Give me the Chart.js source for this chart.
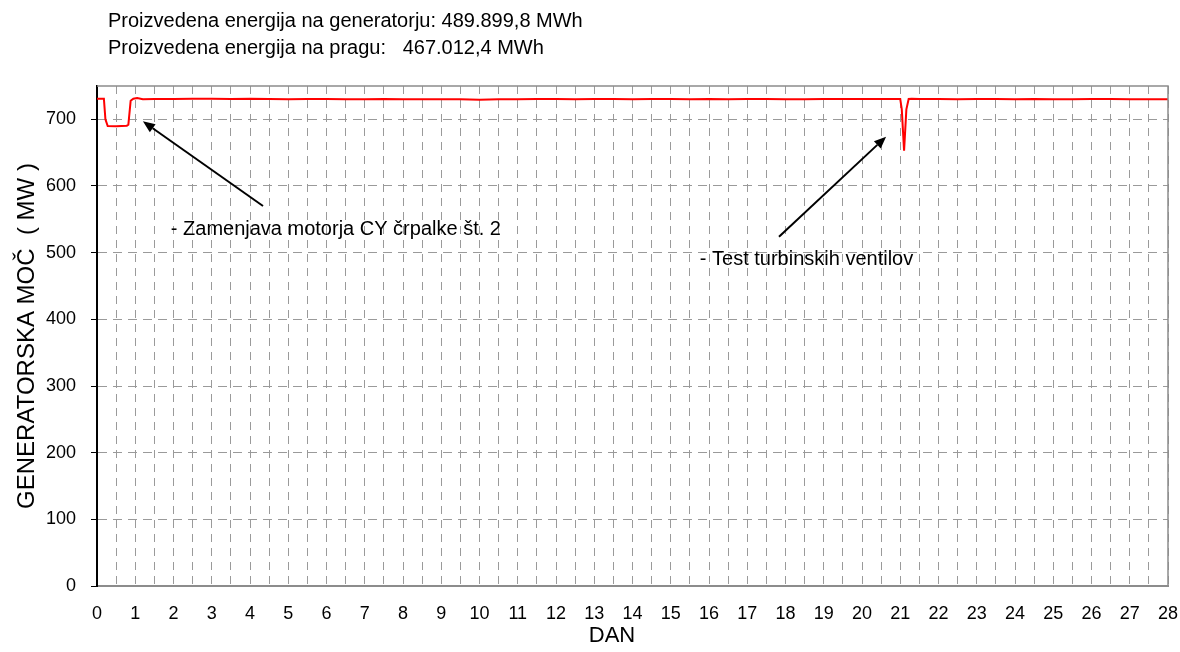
<!DOCTYPE html>
<html>
<head>
<meta charset="utf-8">
<script src="https://cdn.jsdelivr.net/npm/chart.js@4/dist/chart.umd.min.js"></script>
<style>
  html, body { margin: 0; padding: 0; background: #ffffff; }
  #wrap { width: 1180px; height: 652px; }
</style>
</head>
<body>
<div id="wrap"><canvas id="c" width="1180" height="652"></canvas></div>
<script>
// ---- data ----
const days = [0, 0.18, 0.22, 0.28, 0.5, 0.78, 0.82, 0.88, 0.95, 1.05, 1.2, 1.5,
  2, 2.5, 3, 3.5, 4, 4.5, 5, 5.5, 6, 6.5, 7, 7.5, 8, 8.5, 9, 9.5, 10, 10.5,
  11, 11.5, 12, 12.5, 13, 13.5, 14, 14.5, 15, 15.5, 16, 16.5, 17, 17.5, 18, 18.5,
  19, 19.5, 20, 20.5, 21.0, 21.04, 21.1, 21.16, 21.22, 21.3, 21.5,
  22, 22.5, 23, 23.5, 24, 24.5, 25, 25.5, 26, 26.5, 27, 27.5, 28];
const power = [731, 731, 700, 690, 689.5, 690.5, 692, 728, 731, 732, 730, 730.5,
  730.5, 731, 731, 730.5, 731, 730.5, 730, 730.5, 730.5, 730, 730, 730.5, 730, 730, 730, 730, 729.5, 730,
  730, 730.5, 730.5, 730, 730.5, 730.5, 730, 730.5, 730.5, 730, 730.5, 730, 730.5, 730.5, 730, 730,
  730.5, 730.5, 730.5, 730.5, 730.5, 715, 653, 715, 730.5, 731, 730.5,
  730.5, 730, 730.5, 730.5, 730, 730.5, 730, 730, 730.5, 730.5, 730, 730, 730];
const yTicks = [0, 100, 200, 300, 400, 500, 600, 700];
const headerLines = [
  'Proizvedena energija na generatorju: 489.899,8 MWh',
  'Proizvedena energija na pragu:   467.012,4 MWh'
];
const notes = [
  { text: '- Zamenjava motorja CY črpalke št. 2', tx: 1.93, ty: 526, ax0: 4.34, ay0: 570, ax1: 1.2, ay1: 697 },
  { text: '- Test turbinskih ventilov', tx: 15.76, ty: 482, ax0: 17.83, ay0: 524, ax1: 20.63, ay1: 674 }
];
const xTitle = 'DAN';
const yTitle = 'GENERATORSKA MOČ  ( MW )';

const FONT = 'Liberation Sans, Arial, sans-serif';

const extras = {
  id: 'extras',
  afterDraw(chart) {
    const ctx = chart.ctx;
    const a = chart.chartArea;
    const xs = chart.scales.x, ys = chart.scales.y;
    ctx.save();
    // plot border top/right
    ctx.strokeStyle = '#8c8c8c';
    ctx.lineWidth = 1.5;
    ctx.beginPath();
    ctx.moveTo(a.left, a.top);
    ctx.lineTo(a.right, a.top);
    ctx.lineTo(a.right, a.bottom);
    ctx.stroke();
    // header
    ctx.fillStyle = '#000';
    ctx.font = '20px ' + FONT;
    ctx.textBaseline = 'alphabetic';
    ctx.textAlign = 'left';
    ctx.fillText(headerLines[0], 108, 27);
    ctx.fillText(headerLines[1], 108, 54);
    // x title
    ctx.font = '22px ' + FONT;
    ctx.textAlign = 'center';
    ctx.fillText(xTitle, 612, 642);
    // notes
    ctx.font = '20px ' + FONT;
    notes.forEach(n => {
      ctx.textAlign = 'left';
      ctx.fillStyle = '#000';
      ctx.fillText(n.text, xs.getPixelForValue(n.tx), ys.getPixelForValue(n.ty));
      const x0 = xs.getPixelForValue(n.ax0), y0 = ys.getPixelForValue(n.ay0);
      const x1 = xs.getPixelForValue(n.ax1), y1 = ys.getPixelForValue(n.ay1);
      const ang = Math.atan2(y1 - y0, x1 - x0);
      const hl = 12, hw = 5;
      const bx = x1 - hl * Math.cos(ang), by = y1 - hl * Math.sin(ang);
      ctx.strokeStyle = '#000';
      ctx.lineWidth = 2;
      ctx.beginPath();
      ctx.moveTo(x0, y0);
      ctx.lineTo(bx, by);
      ctx.stroke();
      ctx.beginPath();
      ctx.moveTo(x1, y1);
      ctx.lineTo(bx + hw * Math.sin(ang), by - hw * Math.cos(ang));
      ctx.lineTo(bx - hw * Math.sin(ang), by + hw * Math.cos(ang));
      ctx.closePath();
      ctx.fill();
    });
    ctx.restore();
  }
};

new Chart(document.getElementById('c'), {
  type: 'line',
  data: {
    datasets: [{
      data: days.map((d, i) => ({ x: d, y: power[i] })),
      borderColor: '#ff0000',
      borderWidth: 2,
      pointRadius: 0,
      tension: 0,
      fill: false
    }]
  },
  options: {
    responsive: false,
    animation: false,
    devicePixelRatio: 1,
    layout: { padding: { top: 86, right: 12, left: 0, bottom: 0 } },
    plugins: { legend: { display: false }, title: { display: false }, tooltip: { enabled: false } },
    scales: {
      x: {
        type: 'linear',
        min: 0, max: 28,
        afterFit(s) { s.height = 66; s.paddingLeft = 0; s.paddingRight = 0; },
        ticks: {
          stepSize: 0.5,
          autoSkip: false,
          maxRotation: 0,
          padding: 17,
          color: '#000',
          font: { family: FONT, size: 18 },
          callback: v => (Number.isInteger(v) ? String(v) : '')
        },
        grid: { color: '#9a9a9a', lineWidth: 1, drawTicks: false },
        border: { display: true, color: '#8c8c8c', width: 2, dash: [8, 6] }
      },
      y: {
        type: 'linear',
        min: 0, max: 750,
        afterFit(s) { s.width = 97; s.paddingTop = 0; s.paddingBottom = 0; },
        afterBuildTicks(s) { s.ticks = yTicks.map(v => ({ value: v })); },
        ticks: {
          padding: 15,
          color: '#000',
          font: { family: FONT, size: 18 },
          callback: v => String(v)
        },
        grid: { color: '#9a9a9a', lineWidth: 1, drawTicks: true, tickLength: 6, tickColor: '#000', tickBorderDash: [] },
        border: { display: true, color: '#000', width: 2, dash: [9, 6] },
        title: {
          display: true,
          text: yTitle,
          color: '#000',
          font: { family: FONT, size: 24 },
          padding: { top: 13, bottom: 0 }
        }
      }
    }
  },
  plugins: [extras]
});
</script>
</body>
</html>
